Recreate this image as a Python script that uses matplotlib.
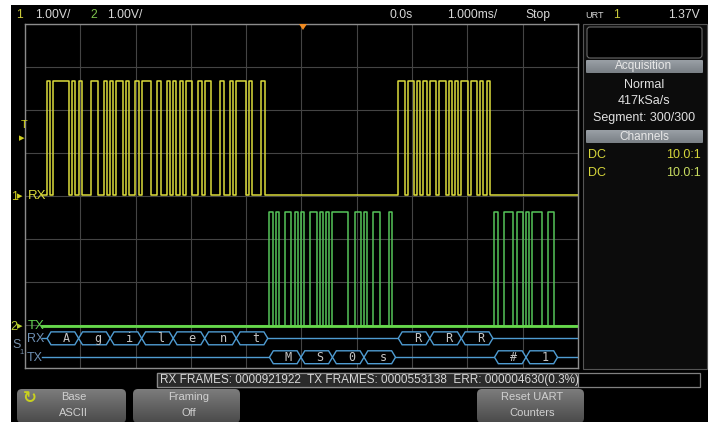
import numpy as np
import matplotlib
matplotlib.use('Agg')
import matplotlib.pyplot as plt
from matplotlib.patches import Rectangle, FancyBboxPatch, Polygon
from matplotlib.colors import LinearSegmentedColormap

# ---------------- data ----------------
rx_chars = ['A', 'g', 'i', 'l', 'e', 'n', 't', 'R', 'R', 'R']
rx_start_ms = [-4.60, -4.03, -3.46, -2.89, -2.32, -1.75, -1.18, 1.75, 2.32, 2.89]
tx_chars = ['M', 'S', '0', 's', '#', '1']
tx_start_ms = [-0.58, -0.01, 0.56, 1.13, 3.49, 4.06]
bit_ms = 0.057
rx_levels_div = [0.02, 2.67]     # idle (mark), active (space)
tx_levels_div = [-3.02, -0.37]
trace_span_ms = [-4.70, 5.0]
rx_decode_div = -3.31
tx_decode_div = -3.75

top_left = [('1', '1.00V/'), ('2', '1.00V/')]
top_mid = ['0.0s', '1.000ms/', 'Stop']
trig_level = '1.37V'
acq_lines = ['Normal', '417kSa/s', 'Segment: 300/300']
chan_rows = [('DC', '10.0:1'), ('DC', '10.0:1')]
status_text = 'RX FRAMES: 0000921922  TX FRAMES: 0000553138  ERR: 000004630(0.3%)'
softkeys = [('Base', 'ASCII'), ('Framing', 'Off'), ('Reset UART', 'Counters')]

FONT = ['Liberation Sans', 'DejaVu Sans']
YEL = '#dcdc3c'
GRN = '#56c45a'
BLUE = '#4f9cd2'

W, H = 710, 422
fig = plt.figure(figsize=(W / 100, H / 100), dpi=100, facecolor='white')

bg = fig.add_axes([0, 0, 1, 1], zorder=0)
bg.set_xlim(0, W); bg.set_ylim(H, 0); bg.axis('off')
fg = fig.add_axes([0, 0, 1, 1], zorder=3)
fg.set_xlim(0, W); fg.set_ylim(H, 0); fg.axis('off'); fg.patch.set_alpha(0)

bg.add_patch(Rectangle((11, 5), 697, 417, facecolor='black', edgecolor='none'))

def gradient_box(ax, x0, y0, w, h, c_top, c_bot, r=4, ec=None):
    p = FancyBboxPatch((x0, y0), w, h, boxstyle=f'round,pad=0,rounding_size={r}',
                       facecolor='none', edgecolor=ec if ec else 'none', lw=0.8, zorder=2)
    ax.add_patch(p)
    cmap = LinearSegmentedColormap.from_list('g', [c_top, c_bot])
    im = ax.imshow(np.linspace(0, 1, 64).reshape(-1, 1), cmap=cmap, aspect='auto',
                   extent=[x0, x0 + w, y0 + h, y0], zorder=1)
    im.set_clip_path(p)

def txt(ax, x, y, s, color='#d8d8d8', size=8.7, ha='left', **kw):
    ax.text(x, y, s, color=color, fontsize=size, ha=ha, va='center',
            family=FONT, **kw)

# ---- top bar ----
txt(bg, 16, 15, top_left[0][0], color='#c8c83a')
txt(bg, 35, 15, top_left[0][1])
txt(bg, 90, 15, top_left[1][0], color='#7cc24c')
txt(bg, 107, 15, top_left[1][1])
txt(bg, 389, 15, top_mid[0])
txt(bg, 447, 15, top_mid[1])
txt(bg, 525, 15, top_mid[2])
txt(bg, 585, 16, 'URT', size=6.5)
txt(bg, 613, 15, '1', color='#c8c83a')
txt(bg, 700, 15, trig_level, ha='right')

# ---- right panel ----
bg.add_patch(Rectangle((583, 24), 124, 345, facecolor='#0c0c0c', edgecolor='#555555', lw=0.8))
bg.add_patch(FancyBboxPatch((587, 27), 115, 31, boxstyle='round,pad=0,rounding_size=3',
                            facecolor='black', edgecolor='#6a6a6a', lw=0.8))
gradient_box(bg, 586, 60, 117, 13, '#9aa0a6', '#7a8086', r=1)
txt(bg, 644, 66.5, 'Acquisition', color='#e8e8e8', size=8.5, ha='center', zorder=5)
for i, s in enumerate(acq_lines):
    txt(bg, 644, 85 + 16.5 * i, s, color='#e0e0e0', size=9, ha='center')
gradient_box(bg, 586, 130, 117, 13, '#9aa0a6', '#7a8086', r=1)
txt(bg, 644, 136.5, 'Channels', color='#e8e8e8', size=8.5, ha='center', zorder=5)
row_cols = [('#d6d63a', '#d6d63a'), ('#d6d63a', '#c8dc60')]
for i, (a, b) in enumerate(chan_rows):
    txt(bg, 588, 155 + 18 * i, a, color=row_cols[i][0], size=9)
    txt(bg, 701, 155 + 18 * i, b, color=row_cols[i][1], size=9, ha='right')

# ---- status bar ----
bg.add_patch(Rectangle((157, 373), 543, 14, facecolor='black', edgecolor='#808080', lw=0.9))
bg.add_patch(Rectangle((157, 373), 421, 14, facecolor='#2a2a2a', edgecolor='#8a8a8a', lw=0.9))
txt(bg, 160, 380, status_text, color='#d8d8d8', size=8.5)

# ---- soft keys ----
key_x = [(17, 109), (133, 107), (477, 107)]
for (x0, w), (l1, l2) in zip(key_x, softkeys):
    gradient_box(bg, x0, 389, w, 34, '#7c7c7c', '#4a4a4a', r=5)
    txt(bg, x0 + w / 2 + 2, 397, l1, color='#d0d0d0', size=8, ha='center', zorder=5)
    txt(bg, x0 + w / 2 + 2, 413, l2, color='#d0d0d0', size=8, ha='center', zorder=5)
bg.text(30, 398, '\u21bb', color='#c8d020', fontsize=12, ha='center', va='center',
        family='DejaVu Sans', fontweight='bold', zorder=5)

# ---------------- main graticule axes ----------------
x0p, x1p, y0p, y1p = 25, 578, 24, 368
ax = fig.add_axes([x0p / W, 1 - y1p / H, (x1p - x0p) / W, (y1p - y0p) / H], zorder=1)
ax.set_facecolor('black')
ax.set_xlim(-5, 5); ax.set_ylim(-4, 4)
ax.set_xticks(np.arange(-5, 6)); ax.set_yticks(np.arange(-4, 5))
ax.tick_params(length=0, labelbottom=False, labelleft=False)
ax.grid(True, color='#444444', lw=0.8)
for sp in ax.spines.values():
    sp.set_color('#8c8c8c'); sp.set_linewidth(1.0)

def uart_trace(chars, starts, lo, hi):
    ts, ys = [trace_span_ms[0]], [lo]
    for c, s in zip(chars, starts):
        code = ord(c)
        bits = [0] + [(code >> i) & 1 for i in range(8)] + [1]
        for k, b in enumerate(bits):
            lev = hi if b == 0 else lo
            t = s + k * bit_ms
            ts += [t, t]; ys += [ys[-1], lev]
    ts.append(trace_span_ms[1]); ys.append(lo)
    return ts, ys

t, y = uart_trace(rx_chars, rx_start_ms, *rx_levels_div)
ax.plot(t, y, color=YEL, lw=1.1, zorder=3)
t, y = uart_trace(tx_chars, tx_start_ms, *tx_levels_div)
ax.plot(t, y, color=GRN, lw=1.1, zorder=3)
ax.plot(trace_span_ms, [tx_levels_div[0]] * 2, color='#66d84a', lw=2.0, zorder=3)

def decode_row(chars, starts, yrow):
    ax.plot(trace_span_ms, [yrow, yrow], color=BLUE, lw=1.0, zorder=4)
    p, h = 0.07, 0.15
    for c, s in zip(chars, starts):
        e = s + 10 * bit_ms
        poly = Polygon([(s, yrow), (s + p, yrow + h), (e - p, yrow + h), (e, yrow),
                        (e - p, yrow - h), (s + p, yrow - h)], closed=True,
                       facecolor='black', edgecolor=BLUE, lw=1.0, zorder=5)
        ax.add_patch(poly)
        ax.text((s + e) / 2 + 0.06, yrow, c, color='#c4c4c4', fontsize=8.5, ha='center',
                va='center', family='DejaVu Sans Mono', zorder=6)

decode_row(rx_chars, rx_start_ms, rx_decode_div)
decode_row(tx_chars, tx_start_ms, tx_decode_div)

# ---- channel labels (foreground) ----
txt(fg, 21, 125, 'T', color='#d0d020', size=8)
fg.text(22, 138, '\u25b8', color='#d0d020', fontsize=8, ha='center', va='center', family='DejaVu Sans')
txt(fg, 11, 197, '1', color='#d0d020', size=9)
fg.text(20, 196, '\u25b8', color='#d0d020', fontsize=8, ha='center', va='center', family='DejaVu Sans')
txt(fg, 28, 196, 'RX', color=YEL, size=9.5)
txt(fg, 10, 327, '2', color='#b8d030', size=9)
fg.text(20, 326, '\u25b8', color='#b8d030', fontsize=8, ha='center', va='center', family='DejaVu Sans')
txt(fg, 28, 326, 'TX', color='#62d050', size=9.5)
txt(fg, 27, 339, 'RX', color='#6e90b4', size=9)
txt(fg, 27, 358, 'TX', color='#6e90b4', size=9)
txt(fg, 12, 345, 'S', color='#7890aa', size=9)
txt(fg, 19.5, 352, '1', color='#7890aa', size=5.5)
fg.add_patch(Polygon([(299, 24), (307, 24), (303, 30)], closed=True, facecolor='#f08a20', edgecolor='none'))

fig.savefig('out.png', dpi=100, facecolor='white')
